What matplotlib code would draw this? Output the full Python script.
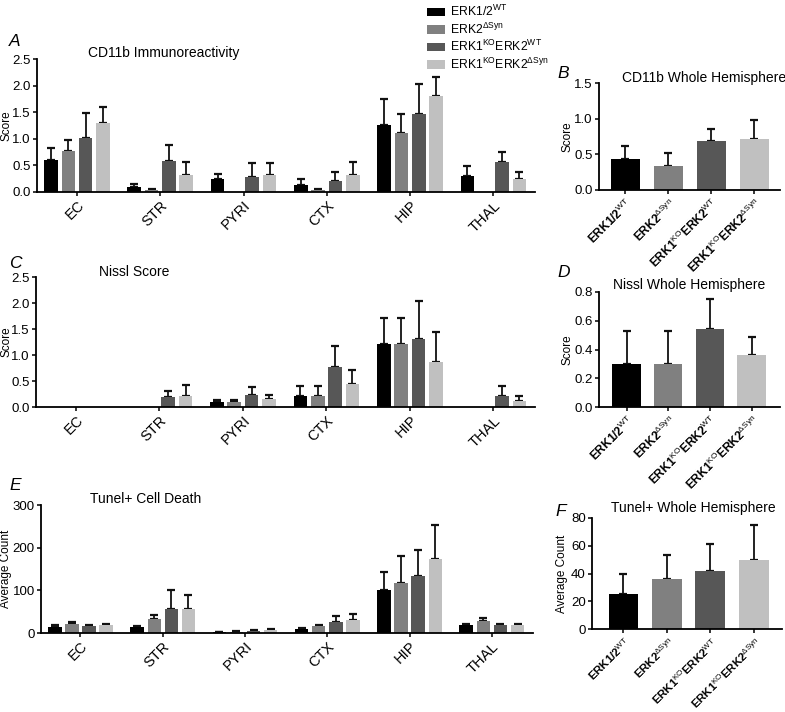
import matplotlib
matplotlib.use("Agg")
import matplotlib.pyplot as plt
from matplotlib.patches import Patch
import numpy as np

plt.rcParams["font.family"] = ["Liberation Sans", "DejaVu Sans"]
plt.rcParams["mathtext.fontset"] = "custom"
plt.rcParams["mathtext.rm"] = "Liberation Sans"
plt.rcParams["mathtext.it"] = "Liberation Sans:italic"
plt.rcParams["mathtext.bf"] = "Liberation Sans:bold"

regions = ["EC", "STR", "PYRI", "CTX", "HIP", "THAL"]
genotypes = [
    r"ERK1/2$^{\mathrm{WT}}$",
    r"ERK2$^{\Delta\mathrm{Syn}}$",
    r"ERK1$^{\mathrm{KO}}$ERK2$^{\mathrm{WT}}$",
    r"ERK1$^{\mathrm{KO}}$ERK2$^{\Delta\mathrm{Syn}}$",
]
genotype_ticks = [
    r"$\mathbf{ERK1/2}^{\mathrm{WT}}$",
    r"$\mathbf{ERK2}^{\Delta\mathrm{Syn}}$",
    r"$\mathbf{ERK1}^{\mathrm{KO}}\mathbf{ERK2}^{\mathrm{WT}}$",
    r"$\mathbf{ERK1}^{\mathrm{KO}}\mathbf{ERK2}^{\Delta\mathrm{Syn}}$",
]
colors = ["#000000", "#808080", "#575757", "#c0c0c0"]

# rows = genotype, columns = region
cd11b_mean = [
    [0.60, 0.10, 0.24, 0.14, 1.26, 0.31],
    [0.77, 0.04, 0.00, 0.04, 1.11, 0.00],
    [1.02, 0.59, 0.29, 0.21, 1.46, 0.56],
    [1.29, 0.32, 0.32, 0.32, 1.80, 0.24],
]
cd11b_sem = [
    [0.23, 0.05, 0.10, 0.11, 0.49, 0.17],
    [0.21, 0.02, 0.00, 0.02, 0.35, 0.00],
    [0.46, 0.29, 0.25, 0.17, 0.57, 0.19],
    [0.30, 0.25, 0.22, 0.25, 0.37, 0.13],
]
nissl_mean = [
    [0.00, 0.00, 0.10, 0.21, 1.21, 0.00],
    [0.00, 0.00, 0.10, 0.21, 1.21, 0.00],
    [0.00, 0.19, 0.24, 0.77, 1.31, 0.21],
    [0.00, 0.22, 0.15, 0.45, 0.86, 0.12],
]
nissl_sem = [
    [0.00, 0.00, 0.04, 0.19, 0.50, 0.00],
    [0.00, 0.00, 0.04, 0.19, 0.50, 0.00],
    [0.00, 0.12, 0.14, 0.41, 0.72, 0.19],
    [0.00, 0.20, 0.09, 0.27, 0.59, 0.10],
]
tunel_mean = [
    [15, 14, 2, 10, 100, 18],
    [22, 32, 3, 16, 118, 27],
    [17, 57, 5, 26, 134, 18],
    [19, 57, 6, 31, 174, 18],
]
tunel_sem = [
    [3, 2, 0.5, 2, 42, 4],
    [4, 10, 1, 3, 63, 7],
    [2, 44, 1.5, 14, 60, 3],
    [2, 31, 3, 14, 80, 2],
]

cd11b_whole_mean = [0.44, 0.33, 0.68, 0.71]
cd11b_whole_sem = [0.17, 0.19, 0.18, 0.27]
nissl_whole_mean = [0.30, 0.30, 0.54, 0.36]
nissl_whole_sem = [0.23, 0.23, 0.21, 0.13]
tunel_whole_mean = [25, 36, 42, 50]
tunel_whole_sem = [15, 17, 19, 25]


def _style(ax):
    for side in ("top", "right"):
        ax.spines[side].set_visible(False)
    for side in ("left", "bottom"):
        ax.spines[side].set_linewidth(1.3)
    ax.tick_params(axis="both", direction="out", length=3, width=1.1, pad=1.5)
    ax.tick_params(axis="y", labelsize=9.5)


def _errbars(ax, x, mean, sem):
    x = np.asarray(x, dtype=float)
    mean = np.asarray(mean, dtype=float)
    sem = np.asarray(sem, dtype=float)
    keep = sem > 0
    ax.errorbar(x[keep], mean[keep], yerr=[np.zeros(keep.sum()), sem[keep]],
                fmt="none", ecolor="#111111", elinewidth=1.3, capsize=3.2, capthick=1.6, zorder=1)


def _region_panel(ax, mean, sem, ylim, yticks, fmt, ylabel, label_x):
    x = np.arange(len(regions))
    width = 0.163
    step = 0.208
    for i in range(len(genotypes)):
        xi = x + (i - 1.5) * step
        ax.bar(xi, mean[i], width=width, color=colors[i], zorder=2)
        _errbars(ax, xi, mean[i], sem[i])
    ax.set_xlim(-0.48, 5.5)
    ax.set_ylim(*ylim)
    ax.set_yticks(yticks)
    ax.set_yticklabels([fmt.format(t) for t in yticks])
    ax.set_xticks(x)
    ax.set_xticklabels(regions, rotation=45, ha="right", rotation_mode="anchor", fontsize=10.5)
    ax.set_ylabel(ylabel, fontsize=8.5)
    ax.yaxis.set_label_coords(label_x, 0.5)
    _style(ax)


def _whole_panel(ax, mean, sem, xlim, ylim, yticks, fmt, ylabel, label_x, tick_size=8.6):
    x = np.arange(len(genotypes))
    ax.bar(x, mean, width=0.68, color=colors, zorder=2)
    _errbars(ax, x, mean, sem)
    ax.set_xlim(*xlim)
    ax.set_ylim(*ylim)
    ax.set_yticks(yticks)
    ax.set_yticklabels([fmt.format(t) for t in yticks])
    ax.set_xticks(x)
    ax.set_xticklabels(genotype_ticks, rotation=45, ha="right", rotation_mode="anchor", fontsize=tick_size)
    ax.set_ylabel(ylabel, fontsize=8.5)
    ax.yaxis.set_label_coords(label_x, 0.5)
    _style(ax)


W, H = 785, 712
fig = plt.figure(figsize=(W / 100, H / 100), dpi=100)


def _axes(left, right, bottom, top):
    return fig.add_axes([left / W, 1 - bottom / H, (right - left) / W, (bottom - top) / H])


ax_a = _axes(37, 535, 192, 59)
ax_b = _axes(599, 780, 190, 83)
ax_c = _axes(36, 535, 407, 277)
ax_d = _axes(599, 780, 407, 292)
ax_e = _axes(41, 533, 633, 505)
ax_f = _axes(592, 782, 629, 518)

_region_panel(ax_a, cd11b_mean, cd11b_sem, (0, 2.5), [0, 0.5, 1.0, 1.5, 2.0, 2.5], "{:.1f}", "Score", -0.05)
_region_panel(ax_c, nissl_mean, nissl_sem, (0, 2.5), [0, 0.5, 1.0, 1.5, 2.0, 2.5], "{:.1f}", "Score", -0.048)
_region_panel(ax_e, tunel_mean, tunel_sem, (0, 300), [0, 100, 200, 300], "{:.0f}", "Average Count", -0.058)

_whole_panel(ax_b, cd11b_whole_mean, cd11b_whole_sem, (-0.61, 3.6), (0, 1.5), [0, 0.5, 1.0, 1.5], "{:.1f}", "Score", -0.14)
_whole_panel(ax_d, nissl_whole_mean, nissl_whole_sem, (-0.66, 3.68), (0, 0.8), [0, 0.2, 0.4, 0.6, 0.8], "{:.1f}", "Score", -0.14)
_whole_panel(ax_f, tunel_whole_mean, tunel_whole_sem, (-0.72, 3.65), (0, 80), [0, 20, 40, 60, 80], "{:.0f}", "Average Count", -0.125,
             tick_size=8.2)

# panel titles and letters
titles = [
    (164, 53, "CD11b Immunoreactivity"),
    (704, 78, "CD11b Whole Hemisphere"),
    (134, 272, "Nissl Score"),
    (689, 285, "Nissl Whole Hemisphere"),
    (146, 499, "Tunel+ Cell Death"),
    (693, 508, "Tunel+ Whole Hemisphere"),
]
for tx, ty, label in titles:
    fig.text(tx / W, 1 - ty / H, label, ha="center", va="center", fontsize=10)

letters = [(9, 42, "A"), (557, 73, "B"), (9, 264, "C"), (557, 272, "D"), (9, 485, "E"), (555, 511, "F")]
for lx, ly, label in letters:
    fig.text(lx / W, 1 - ly / H, label, ha="left", va="center", fontsize=12.5, style="italic")

handles = [Patch(facecolor=c, edgecolor="none") for c in colors]
fig.legend(handles, genotypes, loc="upper left", bbox_to_anchor=(421 / W, 1 + 2 / H),
           frameon=False, fontsize=8.8, handlelength=1.5, handleheight=0.7,
           handletextpad=0.35, labelspacing=0.18, borderpad=0.0)

fig.savefig("out.png", dpi=100)
